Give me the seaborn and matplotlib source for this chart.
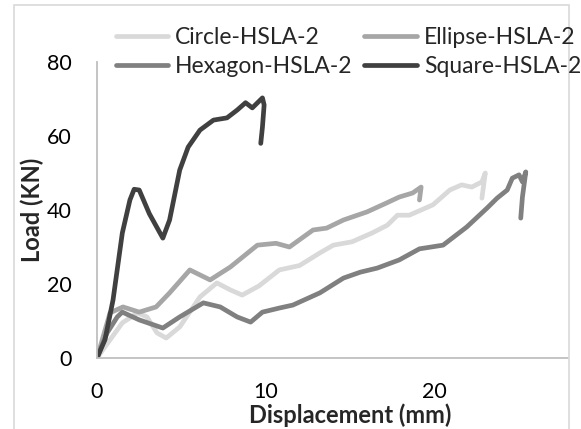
import seaborn as sns
import matplotlib.pyplot as plt
import matplotlib.patches as patches
import pandas as pd

# displacement (mm) / load (KN)
circle_x = [0, 0.77, 1.5, 2.4, 2.96, 3.55, 4.1, 4.9, 6.1, 7.1, 7.9, 8.6, 9.6, 10.8, 12.0, 13.2, 14.0, 15.1, 16.3, 17.2, 17.8, 18.5, 19.9, 20.9, 21.6, 22.2, 22.8, 23.0, 22.8]
circle_y = [0, 4.9, 9.5, 12.2, 11.1, 6.8, 5.4, 8.4, 16.5, 20.3, 18.4, 17.0, 19.5, 23.8, 25.0, 28.4, 30.5, 31.4, 33.8, 35.9, 38.6, 38.6, 41.4, 45.4, 46.8, 46.2, 47.6, 50.0, 43.2]

ellipse_x = [0, 0.77, 1.54, 2.5, 3.5, 4.3, 5.5, 6.7, 7.9, 9.5, 10.6, 11.4, 12.8, 13.6, 14.6, 16.0, 17.2, 17.9, 18.7, 19.2, 19.1]
ellipse_y = [0, 12.2, 13.8, 12.4, 13.8, 17.6, 23.8, 21.1, 24.6, 30.5, 31.0, 30.0, 34.6, 35.1, 37.3, 39.5, 42.0, 43.5, 44.6, 46.2, 42.7]

hexagon_x = [0, 0.6, 1.2, 1.5, 2.5, 3.9, 4.9, 6.3, 7.3, 8.3, 9.1, 9.8, 10.8, 11.6, 13.2, 14.6, 15.6, 16.6, 17.9, 19.1, 20.5, 21.1, 21.9, 23.1, 23.7, 24.3, 24.6, 25.0, 25.2, 25.4, 25.2, 25.1]
hexagon_y = [0, 6.8, 11.1, 12.4, 10.3, 8.1, 11.1, 14.9, 13.8, 11.1, 9.7, 12.4, 13.5, 14.3, 17.6, 21.6, 23.2, 24.3, 26.5, 29.5, 30.5, 32.6, 35.4, 40.5, 43.2, 45.4, 48.6, 49.5, 47.6, 50.3, 43.5, 37.8]

square_x = [0, 0.47, 0.95, 1.5, 1.95, 2.2, 2.5, 3.1, 3.9, 4.3, 4.9, 5.4, 6.1, 6.9, 7.7, 8.3, 8.8, 9.2, 9.8, 9.9, 9.8, 9.7]
square_y = [0, 4.9, 15.7, 33.8, 42.7, 45.6, 45.4, 39.0, 32.4, 37.3, 50.8, 57.0, 61.6, 64.3, 64.9, 67.0, 69.0, 67.6, 70.3, 68.4, 62.4, 58.0]

names = ['Circle-HSLA-2', 'Ellipse-HSLA-2', 'Hexagon-HSLA-2', 'Square-HSLA-2']
colors = ['#d9d9d9', '#a6a6a6', '#808080', '#404040']

frames = []
for name, xs, ys in zip(names, [circle_x, ellipse_x, hexagon_x, square_x],
                        [circle_y, ellipse_y, hexagon_y, square_y]):
    frames.append(pd.DataFrame({'Displacement': xs, 'Load': ys, 'Specimen': name}))
df = pd.concat(frames, ignore_index=True)

sns.set_style('white')
plt.rcParams['font.family'] = ['Lato', 'DejaVu Sans']

fig = plt.figure(figsize=(5.81, 4.29), dpi=100)
ax = fig.add_axes([97/581, 71/429, 471/581, 296/429])

sns.lineplot(data=df, x='Displacement', y='Load', hue='Specimen', hue_order=names,
             palette=colors, sort=False, estimator=None, linewidth=3.4, ax=ax, legend=False)
for line in ax.get_lines():
    line.set_solid_joinstyle('round')
    line.set_solid_capstyle('round')

ax.set_xlim(0, 27.9)
ax.set_ylim(0, 80)
ax.set_xticks([0, 10, 20])
ax.set_yticks([0, 20, 40, 60, 80])
ax.tick_params(length=0, labelsize=15.5, colors='black')
ax.tick_params(axis='x', pad=17)
ax.tick_params(axis='y', pad=18)
sns.despine(ax=ax)
for s in ['left', 'bottom']:
    ax.spines[s].set_color('#bfbfbf')
    ax.spines[s].set_linewidth(1.3)

ax.set_xlabel('Displacement (mm)', fontsize=17, fontweight='bold')
ax.set_ylabel('Load (KN)', fontsize=17, fontweight='bold')
ax.xaxis.set_label_coords(15/27.9, -0.153)
ax.yaxis.set_label_coords(-0.112, 0.5)

# legend, filled row by row like the original
handles = [plt.Line2D([], [], color=c, lw=3.4) for c in colors]
order = [0, 2, 1, 3]
fig.legend([handles[i] for i in order], [names[i] for i in order], loc='upper left',
           bbox_to_anchor=(95/581, 1 - 6/429), ncol=2, frameon=False, fontsize=16.5,
           handlelength=2.3, handletextpad=0.3, columnspacing=0.5, labelspacing=0.35)

# chart border
fig.patches.append(patches.Rectangle((14/581, -0.05), 555/581, 1.05 - 5/429,
                                     transform=fig.transFigure, fill=False,
                                     edgecolor='#d9d9d9', lw=1.2))

fig.savefig('out.png', dpi=100)
